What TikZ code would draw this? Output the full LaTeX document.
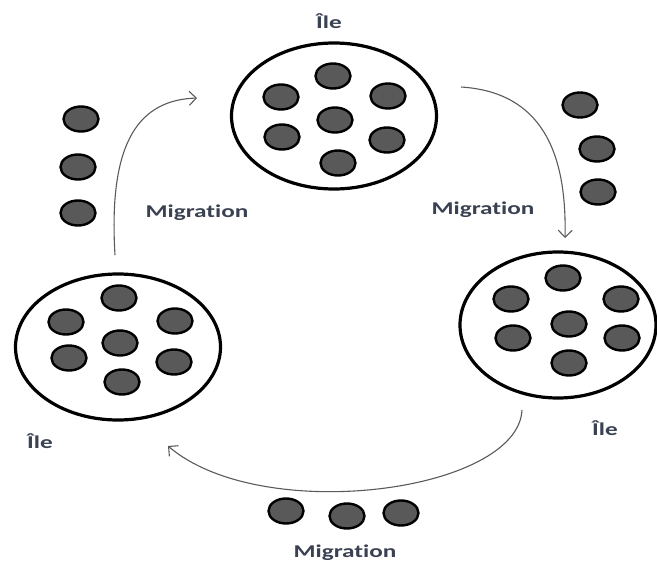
\documentclass[tikz,border=0pt]{standalone}
\usepackage{fontspec}
\setmainfont[Ligatures=NoCommon]{Carlito}
\usetikzlibrary{shapes.geometric,arrows.meta}
\definecolor{dotfill}{HTML}{595959}
\definecolor{labelink}{HTML}{3A4252}
\definecolor{flow}{HTML}{5A5A5A}
\tikzset{
  island/.style={ellipse,draw=black,line width=3.2pt,fill=white,minimum width=205pt,minimum height=146pt,inner sep=0pt},
  indiv/.style={ellipse,draw=black,line width=2.4pt,fill=dotfill,minimum width=35pt,minimum height=25pt,inner sep=0pt},
  lbl/.style={text=labelink,font=\bfseries\fontsize{18}{20}\selectfont,xscale=1.4,inner sep=0pt},
  flowline/.style={draw=flow,line width=1.1pt,-{Straight Barb[length=7pt,width=14pt,line width=1.1pt]}}
}
\begin{document}
\begin{tikzpicture}[x=1pt,y=-1pt]
\useasboundingbox (0,0) rectangle (657,562);

% three islands
\node[island] (itop) at (334,116) {};
\node[island] (ileft) at (118,347) {};
\node[island,minimum width=196pt] (iright) at (558,325) {};

% individuals on the top island
\node[indiv] (t1) at (333,76) {};
\node[indiv] (t2) at (281,97) {};
\node[indiv] (t3) at (388,96) {};
\node[indiv] (t4) at (335,120) {};
\node[indiv] (t5) at (282,137) {};
\node[indiv] (t6) at (387,140) {};
\node[indiv] (t7) at (338,163) {};

% individuals on the left island
\node[indiv] (l1) at (119,298) {};
\node[indiv] (l2) at (66,322) {};
\node[indiv] (l3) at (175,321) {};
\node[indiv] (l4) at (120,343) {};
\node[indiv] (l5) at (69,358) {};
\node[indiv] (l6) at (174,362) {};
\node[indiv] (l7) at (122,382) {};

% individuals on the right island
\node[indiv] (r1) at (563,278) {};
\node[indiv] (r2) at (511,299) {};
\node[indiv] (r3) at (621,299) {};
\node[indiv] (r4) at (569,324) {};
\node[indiv] (r5) at (513,338) {};
\node[indiv] (r6) at (622,338) {};
\node[indiv] (r7) at (569,363) {};

% migrants between islands
\node[indiv] (m1) at (81,119) {};
\node[indiv] (m2) at (78,167) {};
\node[indiv] (m3) at (78,213) {};
\node[indiv] (m4) at (580,105) {};
\node[indiv] (m5) at (597,149) {};
\node[indiv] (m6) at (598,192) {};
\node[indiv] (m7) at (286,511) {};
\node[indiv] (m8) at (347,516) {};
\node[indiv] (m9) at (401,513) {};

% labels
\node[lbl] (ltop) at (329,21) {Île};
\node[lbl] (lleft) at (40,441) {Île};
\node[lbl] (lright) at (605,428) {Île};
\node[lbl] (mgl) at (197,213) {Migration};
\node[lbl] (mgr) at (483,210) {Migration};
\node[lbl] (mgb) at (345,553) {Migration};

% migration flows
\coordinate (a1s) at (115,255);
\coordinate (a1e) at (197,98);
\coordinate (a2s) at (461,87);
\coordinate (a2e) at (565,238);
\coordinate (a3s) at (522,410);
\coordinate (a3e) at (168,446);
\draw[flowline] (a1s) .. controls (108,140) and (140,100) .. (a1e);
\draw[flowline] (a2s) .. controls (540,92) and (567,150) .. (a2e);
\draw[flowline] (a3s) .. controls (518,492) and (262,526) .. (a3e);
\end{tikzpicture}
\end{document}
